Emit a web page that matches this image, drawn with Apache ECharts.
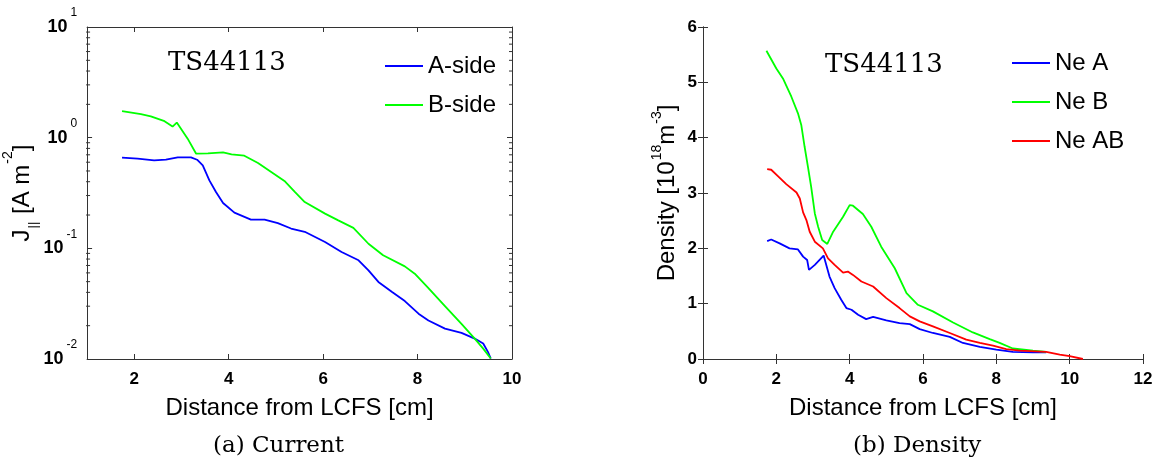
<!DOCTYPE html>
<html>
<head>
<meta charset="utf-8">
<script src="https://cdn.jsdelivr.net/npm/echarts@6/dist/echarts.min.js"></script>
<style>
html,body{margin:0;padding:0;background:#fff;}
#chart{width:1160px;height:461px;}
</style>
</head>
<body>
<div id="chart"></div>
<script>
// ---------- Data: (a) Current ----------
const xA_side = [1.74,2.07,2.42,2.67,2.92,3.20,3.33,3.45,3.59,3.73,3.88,4.12,4.47,4.76,5.04,5.32,5.61,6.04,6.39,6.75,6.96,7.17,7.46,7.73,8.02,8.23,8.58,8.93,9.21,9.39,9.49,9.55];
const jA_side = [0.659,0.646,0.624,0.632,0.664,0.664,0.632,0.562,0.411,0.323,0.257,0.210,0.182,0.182,0.169,0.151,0.141,0.114,0.0927,0.0780,0.0632,0.0497,0.0403,0.0334,0.0257,0.0223,0.0188,0.0172,0.0153,0.0138,0.0116,0.0101];
const xB_side = [1.74,2.14,2.35,2.64,2.81,2.90,3.13,3.31,3.56,3.88,4.06,4.33,4.62,4.90,5.18,5.40,5.61,6.04,6.32,6.64,6.96,7.27,7.73,7.94,8.22,8.58,8.93,9.21,9.39,9.55];
const jB_side = [1.74,1.63,1.56,1.41,1.26,1.37,0.98,0.716,0.721,0.736,0.706,0.687,0.590,0.490,0.406,0.323,0.262,0.206,0.179,0.153,0.110,0.0865,0.0687,0.0590,0.0442,0.0301,0.0208,0.0153,0.0124,0.0101];

// ---------- Data: (b) Density ----------
const xNeA = [1.75,1.86,2.09,2.36,2.59,2.73,2.84,2.89,3.05,3.29,3.45,3.59,3.77,3.91,4.05,4.23,4.45,4.64,5.00,5.36,5.64,5.91,6.27,6.73,7.09,7.55,8.00,8.45,9.00,9.36];
const neA = [2.13,2.16,2.09,2.00,1.98,1.85,1.79,1.61,1.70,1.87,1.49,1.28,1.07,0.92,0.89,0.80,0.72,0.76,0.70,0.65,0.63,0.54,0.47,0.40,0.29,0.22,0.17,0.13,0.12,0.12];
const xNeB = [1.73,2.00,2.18,2.41,2.59,2.68,2.77,2.86,2.95,3.05,3.14,3.25,3.39,3.55,3.82,4.00,4.09,4.36,4.59,4.86,5.23,5.55,5.86,6.27,6.82,7.36,7.82,8.09,8.45,9.00,9.36];
const neB = [5.57,5.25,5.07,4.74,4.44,4.23,3.84,3.48,3.11,2.63,2.39,2.15,2.08,2.30,2.57,2.78,2.77,2.62,2.39,2.03,1.64,1.19,0.98,0.86,0.66,0.48,0.36,0.29,0.19,0.15,0.13];
const xNeAB = [1.75,1.86,2.05,2.27,2.55,2.64,2.73,2.82,2.91,3.05,3.27,3.41,3.59,3.82,3.95,4.09,4.32,4.64,5.00,5.36,5.64,5.91,6.27,6.73,7.18,7.55,7.91,8.27,8.64,9.36,9.73,10.00,10.36];
const neAB = [3.43,3.42,3.30,3.16,3.01,2.90,2.65,2.51,2.30,2.12,2.00,1.82,1.70,1.56,1.58,1.52,1.40,1.31,1.10,0.92,0.77,0.68,0.59,0.47,0.35,0.29,0.24,0.18,0.15,0.13,0.08,0.05,0.00];

// ---------- Tick values ----------
const xTicksCurrent = [2,4,6,8,10];
const logMinorTicks = [0.02,0.03,0.04,0.05,0.06,0.07,0.08,0.09,0.2,0.3,0.4,0.5,0.6,0.7,0.8,0.9,2,3,4,5,6,7,8,9];

const zip = (xs, ys) => xs.map((x, i) => [x, ys[i]]);

const SANS = 'Liberation Sans';
const AX = '#333';

const tickLabelStyle = {fontFamily: SANS, fontSize: 17, fontWeight: 'bold', color: '#000'};

const chart = echarts.init(document.getElementById('chart'), null, {renderer: 'canvas'});

const lineSeries = (name, data, color, xi, yi) => ({
  name, type: 'line', data, xAxisIndex: xi, yAxisIndex: yi,
  showSymbol: false, symbol: 'none', smooth: false,
  lineStyle: {color, width: 1.8}, itemStyle: {color},
  animation: false, z: 3
});

const option = {
  animation: false,
  backgroundColor: '#fff',
  grid: [
    {left: 87, top: 27, width: 425, height: 332, containLabel: false},
    {left: 703, top: 27, width: 440, height: 332, containLabel: false}
  ],
  xAxis: [
    {
      gridIndex: 0, type: 'value', min: 1, max: 10, position: 'bottom',
      name: 'Distance from LCFS [cm]', nameLocation: 'middle', nameGap: 37,
      nameTextStyle: {fontFamily: SANS, fontSize: 24, color: '#000'},
      axisLine: {show: true, lineStyle: {color: AX}},
      axisTick: {show: true, inside: true, length: 5, customValues: xTicksCurrent, lineStyle: {color: AX}},
      axisLabel: {customValues: xTicksCurrent, margin: 12, ...tickLabelStyle},
      splitLine: {show: false}
    },
    {
      gridIndex: 0, type: 'value', min: 1, max: 10, position: 'top',
      axisLine: {show: true, lineStyle: {color: AX}},
      axisTick: {show: true, inside: true, length: 5, customValues: xTicksCurrent, lineStyle: {color: AX}},
      axisLabel: {show: false}, splitLine: {show: false}
    },
    {
      gridIndex: 1, type: 'value', min: 0, max: 12, interval: 2, position: 'bottom',
      name: 'Distance from LCFS [cm]', nameLocation: 'middle', nameGap: 37,
      nameTextStyle: {fontFamily: SANS, fontSize: 24, color: '#000'},
      axisLine: {show: true, lineStyle: {color: AX}},
      axisTick: {show: true, inside: true, length: 5, lineStyle: {color: AX}},
      axisLabel: {margin: 12, ...tickLabelStyle},
      splitLine: {show: false}
    },
    {
      gridIndex: 1, type: 'value', min: 0, max: 12, interval: 2, position: 'top',
      axisLine: {show: true, lineStyle: {color: AX}},
      axisTick: {show: true, inside: true, length: 5, lineStyle: {color: AX}},
      axisLabel: {show: false}, splitLine: {show: false}
    }
  ],
  yAxis: [
    {
      gridIndex: 0, type: 'log', logBase: 10, min: 0.01, max: 10, position: 'left',
      name: '{n|J}{sub|||}{n| [A m}{sup|-2}{n|]}', nameLocation: 'middle', nameGap: 35, nameRotate: 90,
      nameTextStyle: {
        fontFamily: SANS, fontSize: 24, color: '#000',
        rich: {
          n: {fontFamily: SANS, fontSize: 24, color: '#000'},
          sub: {fontFamily: SANS, fontSize: 13, padding: [22, 1, 0, 1], color: '#000'},
          sup: {fontFamily: SANS, fontSize: 14, padding: [0, 0, 28, 1], color: '#000'}
        }
      },
      axisLine: {show: true, lineStyle: {color: AX}},
      axisTick: {show: true, inside: true, length: 5, lineStyle: {color: AX}},
      axisLabel: {
        margin: 10,
        formatter: v => '{b|10}{s|' + Math.round(Math.log10(v)) + '}',
        rich: {
          b: {fontFamily: SANS, fontSize: 18, fontWeight: 'bold', color: '#000'},
          s: {fontFamily: SANS, fontSize: 12, padding: [0, 0, 28, 3], color: '#000'}
        }
      },
      splitLine: {show: false}
    },
    {
      gridIndex: 0, type: 'log', logBase: 10, min: 0.01, max: 10, position: 'right',
      axisLine: {show: true, lineStyle: {color: AX}},
      axisTick: {show: true, inside: true, length: 5, lineStyle: {color: AX}},
      axisLabel: {show: false}, splitLine: {show: false}
    },
    {
      gridIndex: 1, type: 'value', min: 0, max: 6, interval: 1, position: 'left',
      name: '{n|Density [10}{sup|18}{n|m}{sup|-3}{n|]}', nameLocation: 'middle', nameGap: 19, nameRotate: 90,
      nameTextStyle: {
        fontFamily: SANS, fontSize: 24, color: '#000',
        rich: {
          n: {fontFamily: SANS, fontSize: 24, color: '#000'},
          sup: {fontFamily: SANS, fontSize: 14, padding: [0, 0, 20, 1], color: '#000'}
        }
      },
      axisLine: {show: true, lineStyle: {color: AX}},
      axisTick: {show: true, inside: true, length: 5, lineStyle: {color: AX}},
      axisLabel: {margin: 6, ...tickLabelStyle},
      splitLine: {show: false}
    },
    {
      gridIndex: 1, type: 'value', min: 0, max: 6, interval: 1, position: 'right',
      axisLine: {show: true, lineStyle: {color: AX}},
      axisTick: {show: true, inside: true, length: 5, lineStyle: {color: AX}},
      axisLabel: {show: false}, splitLine: {show: false}
    }
  ],
  legend: [
    {
      data: ['A-side', 'B-side'], orient: 'vertical', left: 380, top: 49,
      icon: 'rect', itemWidth: 38, itemHeight: 2, itemGap: 15,
      textStyle: {fontFamily: SANS, fontSize: 24, color: '#000'},
      selectedMode: false
    },
    {
      data: ['Ne A', 'Ne B', 'Ne AB'], orient: 'vertical', left: 1007, top: 46,
      icon: 'rect', itemWidth: 38, itemHeight: 2, itemGap: 15,
      textStyle: {fontFamily: SANS, fontSize: 24, color: '#000'},
      selectedMode: false
    }
  ],
  graphic: [
    {type: 'text', left: 168, top: 50, style: {text: 'TS44113', font: '26px "DejaVu Serif"', fill: '#000'}},
    {type: 'text', left: 825, top: 52, style: {text: 'TS44113', font: '26px "DejaVu Serif"', fill: '#000'}},
    {type: 'text', left: 213, top: 435, style: {text: '(a) Current', font: '23px "DejaVu Serif"', fill: '#000'}},
    {type: 'text', left: 853, top: 435, style: {text: '(b) Density', font: '23px "DejaVu Serif"', fill: '#000'}}
  ],
  series: [
    lineSeries('A-side', zip(xA_side, jA_side), '#0000ff', 0, 0),
    lineSeries('B-side', zip(xB_side, jB_side), '#00ff00', 0, 0),
    {
      type: 'custom', xAxisIndex: 0, yAxisIndex: 0, silent: true, animation: false, clip: false,
      data: logMinorTicks.map(v => [1, v]),
      renderItem: (params, api) => {
        const v = api.value(1);
        const pL = api.coord([1, v]);
        const pR = api.coord([10, v]);
        return {
          type: 'group',
          children: [
            {type: 'line', shape: {x1: pL[0] - 1, y1: pL[1], x2: pL[0] + 3, y2: pL[1]}, style: {stroke: AX, lineWidth: 1}},
            {type: 'line', shape: {x1: pR[0] + 1, y1: pR[1], x2: pR[0] - 3, y2: pR[1]}, style: {stroke: AX, lineWidth: 1}}
          ]
        };
      }
    },
    lineSeries('Ne A', zip(xNeA, neA), '#0000ff', 2, 2),
    lineSeries('Ne B', zip(xNeB, neB), '#00ff00', 2, 2),
    lineSeries('Ne AB', zip(xNeAB, neAB), '#ff0000', 2, 2)
  ]
};

chart.setOption(option);
</script>
</body>
</html>
